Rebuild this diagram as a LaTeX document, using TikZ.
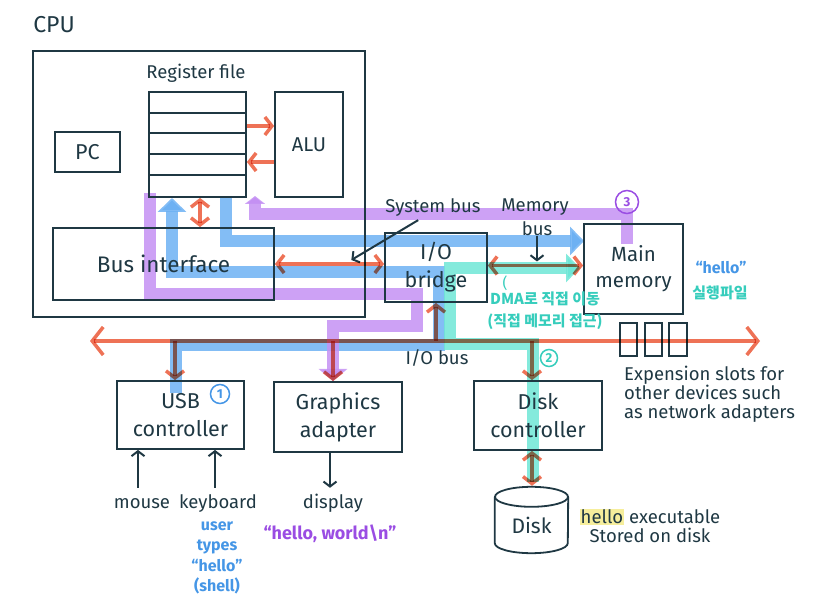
\documentclass[tikz,border=0pt]{standalone}
\usepackage{fontspec}
\setmainfont{Fira Sans}
\newfontfamily\kr{Noto Sans CJK KR}
\usetikzlibrary{arrows.meta,calc}
\definecolor{ink}{HTML}{1F3843}
\definecolor{rd}{HTML}{EE7256}
\definecolor{bl}{HTML}{6DB1F3}
\definecolor{pu}{HTML}{C490F3}
\definecolor{pud}{HTML}{9A4DE3}
\definecolor{te}{HTML}{6EE6D6}
\definecolor{ted}{HTML}{36CDBC}
\definecolor{blt}{HTML}{4596E6}
\definecolor{hl}{HTML}{F6EE9C}
\begin{document}
\begin{tikzpicture}[x=1pt,y=-1pt,
  box/.style={draw=ink, line width=1.8pt, inner sep=0pt, text=ink, align=center,
    font=\fontsize{21.5}{28}\selectfont},
  txt/.style={text=ink, inner sep=0pt, font=\fontsize{18.5}{19}\selectfont},
  smt/.style={txt, text height=12pt, text depth=4pt},
  redl/.style={draw=rd, line width=3.5pt},
  bk/.style={draw=ink, line width=2pt},
  hlp/.style={line width=12pt, draw opacity=0.85},
  rtip/.tip={Straight Barb[length=7pt,width=18pt]},
  bigtip/.tip={Straight Barb[length=11pt,width=28pt]},
  btip/.tip={Straight Barb[length=5pt,width=13pt]},
  htip/.tip={Triangle[length=14pt,width=28pt]},
  snum/.style={circle, draw, line width=1.5pt, inner sep=0pt, font=\fontsize{13}{13}\selectfont\bfseries}
]
\useasboundingbox (0,0) rectangle (815,609);

% ---------- highlight paths ----------
\draw[hlp, draw=bl, -htip] (176,393) -- (176,345) -- (439,345) -- (439,272) -- (172,272) -- (172,198);
\draw[hlp, draw=bl, -htip] (226,196) -- (226,241) -- (584,241);
\draw[hlp, draw=te, -htip] (533,482) -- (533,344) -- (450,344) -- (450,268) -- (580,268);
\draw[hlp, draw=pu, -{Triangle[length=8pt,width=20pt]}] (627,244) -- (627,214) -- (255,214) -- (255,196);
\draw[hlp, draw=pu, -{Triangle[length=12pt,width=28pt]}] (150,193) -- (150,294) -- (417,294) -- (417,326) -- (333,326) -- (333,381);

% ---------- boxes ----------
\node[box, minimum width=332pt, minimum height=266pt] (cpu) at (199,184) {};
\node[txt, font=\fontsize{23}{25}\selectfont] (cpulbl) at (54,25) {CPU};
\node[box, minimum width=97pt, minimum height=105pt] (rf) at (197.5,144.5) {};
\foreach \yy in {113,133,154,175}{
  \draw[ink, line width=1.8pt] (rf.west |- 0,\yy) -- (rf.east |- 0,\yy);
}
\node[txt] (rflbl) at (196,73) {Register file};
\node[box, minimum width=68pt, minimum height=105pt, font=\fontsize{20}{24}\selectfont] (alu) at (309,144.5) {ALU};
\node[box, minimum width=65pt, minimum height=40pt] (pc) at (87.5,152) {PC};
\node[box, minimum width=221pt, minimum height=72pt, font=\fontsize{22.5}{28}\selectfont] (bi) at (163.5,264) {Bus interface};
\node[box, minimum width=102pt, minimum height=69pt] (br) at (436,267.5) {I/O\\bridge};
\node[box, minimum width=99pt, minimum height=90pt, font=\fontsize{20.5}{26}\selectfont] (mm) at (633.5,269) {Main\\memory};
\node[box, minimum width=17pt, minimum height=33pt] (s1) at (628.5,339.5) {};
\node[box, minimum width=17pt, minimum height=33pt] (s2) at (653.5,339.5) {};
\node[box, minimum width=18pt, minimum height=33pt] (s3) at (678,339.5) {};
\node[box, minimum width=127pt, minimum height=68pt] (usb) at (180.5,415) {USB\\controller};
\node[box, minimum width=128pt, minimum height=70pt] (gr) at (338,417) {Graphics\\adapter};
\node[box, minimum width=128pt, minimum height=69pt] (dc) at (538,415.5) {Disk\\controller};
\node[txt, minimum width=73pt, minimum height=56pt, font=\fontsize{21}{24}\selectfont] (disk) at (531.5,525) {Disk};
\draw[ink, line width=1.8pt] (disk.north) ellipse [x radius=36.5pt, y radius=10pt];
\draw[ink, line width=1.8pt] (disk.north west) -- ($(disk.south west)+(0,-10)$)
  arc[start angle=180, end angle=360, x radius=36.5pt, y radius=10pt] -- (disk.north east);

% ---------- step numbers ----------
\node[snum, draw=blt, text=blt, minimum size=19pt] (c1) at (220,394) {1};
\node[snum, draw=ted, text=ted, minimum size=17pt] (c2) at (549,358) {2};
\node[snum, draw=pud, text=pud, minimum size=23pt] (c3) at (627,202) {3};

% ---------- labels ----------
\node[txt] (sysbus) at (433,208) {System bus};
\node[txt] (mem) at (535,207) {Memory};
\node[txt] (mbus) at (537,229) {bus};
\node[txt] (iobus) at (437,358) {I/O bus};
\node[txt, anchor=west, align=left, font=\fontsize{18.5}{19}\selectfont] (exp) at (624,394)
  {Expension slots for\\other devices such\\as network adapters};
\node[smt] (mouse) at (142,505) {mouse};
\node[smt] (kbd) at (218,505) {keyboard};
\node[smt] (disp) at (333,505) {display};
\node[txt, text=blt, align=center, font=\fontsize{16}{20.5}\selectfont\bfseries] (user) at (217,558)
  {user\\types\\“hello”\\(shell)};
\node[txt, text=pud, font=\fontsize{18}{20}\selectfont\bfseries] (hw) at (330,534) {“hello, world\textbackslash n”};
\setlength{\fboxsep}{1pt}
\node[txt, align=center] (exe) at (650,526) {\colorbox{hl}{hello} executable\\Stored on disk};
\node[txt, text=blt, font=\fontsize{16}{18}\selectfont\bfseries] (hq) at (721,268) {“hello”};
\node[txt, text=ted, font=\kr\fontsize{15}{17}\selectfont\bfseries] (exk) at (720,293) {실행파일};
\node[txt, text=ted, font=\fontsize{15}{17}\selectfont] (par) at (505,283) {(};
\node[txt, text=ted, align=center, font=\kr\fontsize{15}{22}\selectfont\bfseries] (dma) at (545,311)
  {DMA로 직접 이동\\(직접 메모리 접근)};

% ---------- black arrows ----------
\draw[bk,-btip] ($(sysbus.south west)+(33,3)$) -- ($(bi.east)!0.7!(bi.east -| br.west)+(0,-4)$);
\draw[bk,-btip] (mbus.south) -- ($(mbus.south |- br.east)+(0,-6)$);
\draw[bk,-btip] ($(mouse.north)+(-4,-9)$) -- ($(mouse.north |- usb.south)+(-4,0)$);
\draw[bk,-btip] ($(kbd.north)+(-3,-9)$) -- ($(kbd.north |- usb.south)+(-3,0)$);
\draw[bk,-btip] ($(gr.south)+(-8,0)$) -- ($(gr.south |- disp.north)+(-8,-9)$);

% ---------- red buses ----------
\coordinate (busL) at (90,341);
\coordinate (busR) at (760,341);
\begin{scope}[blend mode=multiply]
\draw[redl, rtip-rtip] (bi.east) -- (bi.east -| br.west);
\draw[redl, rtip-rtip] ($(br.east)+(0,-2)$) -- ($(br.east -| mm.west)+(0,-2)$);
\draw[redl, -rtip] ($(rf.east)+(0,-18.5)$) -- ($(rf.east -| alu.west)+(0,-18.5)$);
\draw[redl, -rtip] ($(alu.west)+(0,17.5)$) -- ($(alu.west -| rf.east)+(0,17.5)$);
\draw[redl, rtip-rtip] ($(rf.south)+(2.5,0)$) -- ($(rf.south |- bi.north)+(2.5,0)$);
\draw[redl, bigtip-bigtip] (busL) -- (busR);
\draw[redl, -rtip] (br.south |- busL) -- (br.south);
\draw[redl, -rtip] ($(usb.north |- busL)+(-5.5,0)$) -- ($(usb.north)+(-5.5,0)$);
\draw[redl, -rtip] ($(gr.north |- busL)+(-5,0)$) -- ($(gr.north)+(-5,0)$);
\draw[redl, -rtip] ($(dc.north |- busL)+(-6,0)$) -- ($(dc.north)+(-6,0)$);
\draw[redl, rtip-rtip] ($(dc.south)+(-6,0)$) -- ($(dc.south |- disk.north)+(-6,-11)$);
\end{scope}
\end{tikzpicture}
\end{document}
